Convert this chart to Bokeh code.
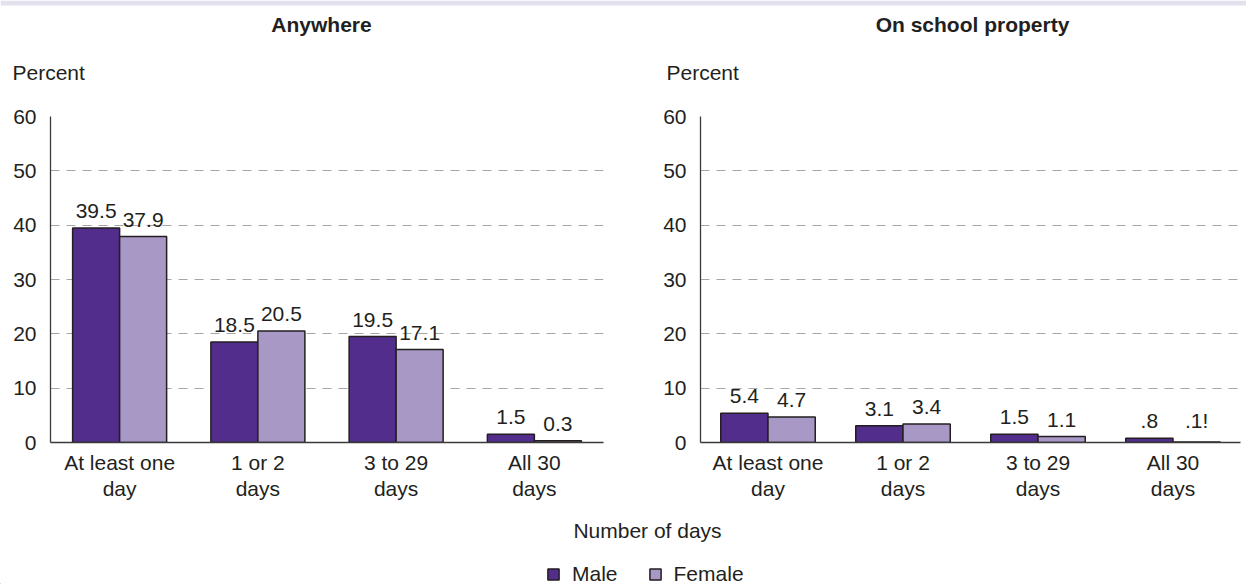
from bokeh.plotting import figure
from bokeh.models import FactorRange, Range1d, FixedTicker, Legend, LegendItem, ColumnDataSource
from bokeh.transform import dodge
from bokeh.layouts import column, row
from bokeh.embed import file_html
from bokeh.resources import INLINE
from bokeh.core.properties import value

# ---- data ----
categories = ["At least one\nday", "1 or 2\ndays", "3 to 29\ndays", "All 30\ndays"]
anywhere_male = [39.5, 18.5, 19.5, 1.5]
anywhere_female = [37.9, 20.5, 17.1, 0.3]
anywhere_male_labels = ["39.5", "18.5", "19.5", "1.5"]
anywhere_female_labels = ["37.9", "20.5", "17.1", "0.3"]
school_male = [5.4, 3.1, 1.5, 0.8]
school_female = [4.7, 3.4, 1.1, 0.1]
school_male_labels = ["5.4", "3.1", "1.5", ".8"]
school_female_labels = ["4.7", "3.4", "1.1", ".1!"]
y_ticks = [0, 10, 20, 30, 40, 50, 60]
series_names = ["Male", "Female"]
panel_titles = ["Anywhere", "On school property"]
y_title = "Percent"
x_title = "Number of days"

MALE = "#522d8c"
FEMALE = "#a898c6"
EDGE = "#231f20"
TXT = "#231f20"
FONT = "Liberation Sans"
FS = "21px"
W = 1246

# ---- header (panel titles, "Percent") ----
p0 = figure(width=W, height=100, x_range=Range1d(0, W), y_range=Range1d(100, 0),
            min_border=0, output_backend="svg", toolbar_location=None)
p0.axis.visible = False
p0.grid.visible = False
p0.outline_line_color = None
p0.quad(left=[0], right=[W], top=[0], bottom=[5], fill_color="#e4e1ef", line_color=None)
p0.text(x=[321, 972], y=[24, 24], text=panel_titles, text_align="center",
        text_baseline="middle", text_font=value(FONT), text_font_size=FS,
        text_font_style="bold", text_color=TXT)
p0.text(x=[12, 666], y=[72, 72], text=[y_title, y_title], text_align="left",
        text_baseline="middle", text_font=value(FONT), text_font_size=FS, text_color=TXT)


def panel(male, female, ml, fl, width, bl, br, half):
    src = ColumnDataSource(dict(cat=categories, male=male, female=female, ml=ml, fl=fl))
    p = figure(x_range=FactorRange(*categories), y_range=Range1d(0, 60),
               width=width, height=408, min_border_left=bl, min_border_right=br,
               min_border_top=16, min_border_bottom=66,
               output_backend="svg", toolbar_location=None)
    p.outline_line_color = None
    p.xgrid.grid_line_color = None
    p.ygrid.ticker = FixedTicker(ticks=y_ticks[1:])
    p.ygrid.grid_line_color = "#a6a6a6"
    p.ygrid.grid_line_dash = "9 7"
    p.ygrid.grid_line_width = 1
    p.yaxis.ticker = FixedTicker(ticks=y_ticks)
    for ax in (p.xaxis, p.yaxis):
        ax.axis_line_color = "#3a3a3a"
        ax.axis_line_width = 1.3
        ax.major_tick_line_color = None
        ax.minor_tick_line_color = None
        ax.major_tick_out = 0
        ax.major_tick_in = 0
        ax.major_label_text_font = FONT
        ax.major_label_text_font_size = FS
        ax.major_label_text_color = TXT
    p.yaxis.major_label_standoff = 14
    p.xaxis.major_label_standoff = 8
    p.xaxis.major_label_text_line_height = 1.15

    p.vbar(x=dodge("cat", -half, range=p.x_range), top="male", width=2 * half, source=src,
           fill_color=MALE, line_color=EDGE, line_width=1.5)
    p.vbar(x=dodge("cat", half, range=p.x_range), top="female", width=2 * half, source=src,
           fill_color=FEMALE, line_color=EDGE, line_width=1.5)
    for col, lab, off in (("male", "ml", -half), ("female", "fl", half)):
        p.text(x=dodge("cat", off, range=p.x_range), y=col, text=lab, source=src,
               text_align="center", text_baseline="bottom", y_offset=-10,
               text_font_size=FS, text_font=value(FONT), text_color=TXT)
    return p


p1 = panel(anywhere_male, anywhere_female, anywhere_male_labels, anywhere_female_labels,
           623, 50, 20, 0.17)
p2 = panel(school_male, school_female, school_male_labels, school_female_labels,
           623, 77, 6, 0.175)

# ---- footer (x title + legend) ----
p3 = figure(width=W, height=76, x_range=Range1d(0, W), y_range=Range1d(584, 508),
            min_border=0, output_backend="svg", toolbar_location=None)
p3.axis.visible = False
p3.grid.visible = False
p3.outline_line_color = None
p3.text(x=[647], y=[530], text=[x_title], text_align="center", text_baseline="middle",
        text_font=value(FONT), text_font_size=FS, text_color=TXT)
# off-screen swatch carriers for the legend
rm = p3.vbar(x=[-100], top=[600], bottom=[600], width=1, fill_color=MALE, line_color=EDGE, line_width=1.5)
rf = p3.vbar(x=[-100], top=[600], bottom=[600], width=1, fill_color=FEMALE, line_color=EDGE, line_width=1.5)
legend = Legend(items=[LegendItem(label=series_names[0], renderers=[rm]),
                       LegendItem(label=series_names[1], renderers=[rf])],
                orientation="horizontal", location=(546, -2),
                glyph_width=14, glyph_height=14, label_standoff=12, spacing=30,
                padding=0, margin=0, border_line_color=None, background_fill_alpha=0,
                label_text_font=FONT, label_text_font_size=FS, label_text_color=TXT)
p3.add_layout(legend)

layout = column(p0, row(p1, p2), p3)
open("out.html", "w").write(file_html(layout, INLINE))
